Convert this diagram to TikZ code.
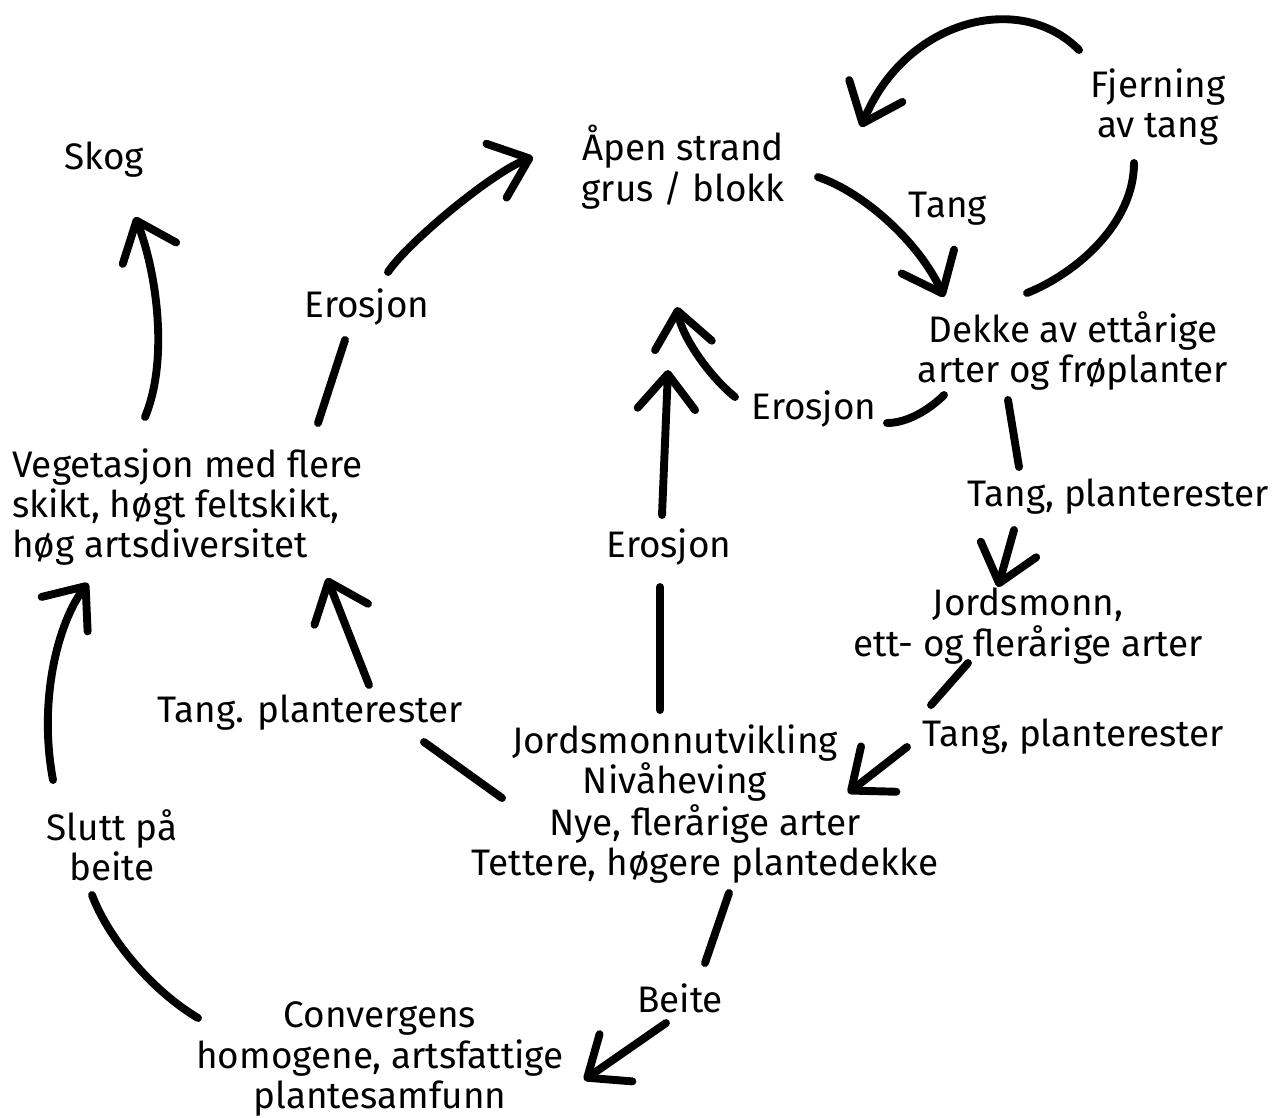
\documentclass[tikz,border=0pt]{standalone}
\usepackage{fontspec}
\setmainfont{Fira Sans}
\usepackage{tikz}
\usetikzlibrary{arrows.meta}
\tikzstyle{stage}=[align=center, inner sep=0pt, font=\fontsize{21}{23}\selectfont]
\tikzstyle{link}=[line width=4.5pt, line cap=round]
\tikzstyle{flow}=[link, -{Straight Barb[length=0.7cm, width=1.15cm, round]}]
\newcommand{\stage}{\node[stage]}

\begin{document}
\begin{tikzpicture}[x=0.02cm, y=-0.02cm]
            \useasboundingbox (0,0) rectangle (1274,1117);
            \stage (skog) at (104,160) {Skog};
            \stage (apen) at (683,167) {Åpen strand\\grus / blokk};
            \stage (fjern) at (1158,107) {Fjerning\\av tang};
            \stage (tang) at (948,209) {Tang};
            \stage (dekke) at (1073,351) {Dekke av ettårige\\arter og frøplanter};
            \stage (eroR) at (814,409) {Erosjon};
            \stage (eroL) at (367,307) {Erosjon};
            \stage (eroC) at (669,547) {Erosjon};
            \stage (veg) at (12,507) [anchor=west, align=left] {Vegetasjon med flere\\skikt, høgt feltskikt,\\høg artsdiversitet};
            \stage (tangR) at (1118,497) {Tang, planterester};
            \stage (jord) at (1028,626) {Jordsmonn,\\ett- og flerårige arter};
            \stage (tangLR) at (1073,737) {Tang, planterester};
            \stage (tangL) at (310,713) {Tang. planterester};
            \stage (jutv) at (675,763) {Jordsmonnutvikling\\Nivåheving};
            \stage (nye) at (705,844) {Nye, flerårige arter\\Tettere, høgere plantedekke};
            \stage (slutt) at (112,845) {Slutt på\\beite};
            \stage (beite) at (680,998) {Beite};
            \stage (conv) at (380,1059) {Convergens\\homogene, artsfattige\\plantesamfunn};
            \coordinate (up1) at (677,307);
            \coordinate (up2) at (668,370);

            \draw[flow] ([shift={(135,10)}]apen.center) .. controls +(45,15) and +(-25,-55) .. ([shift={(-129,-54)}]dekke.center);
            \draw[link] ([shift={(-46,-58)}]dekke.center) .. controls +(50,-20) and +(0,60) .. ([shift={(-24,56)}]fjern.center);
            \draw[flow] ([shift={(-79,-57)}]fjern.center) .. controls +(-59,-60) and +(44,-107) .. ([shift={(178,-40)}]apen.center);
            \draw[link] ([shift={(-129,44)}]dekke.center) .. controls +(-15,15) and +(20,0) .. ([shift={(73,14)}]eroR.center);
            \draw[flow] ([shift={(-79,-12)}]eroR.center) .. controls +(-25,-20) and +(5,30) .. (up1);
            \draw[link] ([shift={(-65,49)}]dekke.center) -- ([shift={(-99,-30)}]tangR.center);
            \draw[flow] ([shift={(-104,33)}]tangR.center) -- ([shift={(-30,-39)}]jord.center);
            \draw[link] ([shift={(-60,37)}]jord.center) -- ([shift={(-142,-32)}]tangLR.center);
            \draw[flow] ([shift={(-166,10)}]tangLR.center) -- ([shift={(143,-51)}]nye.center);
            \draw[link] ([shift={(-15,-53)}]jutv.center) -- ([shift={(-9,40)}]eroC.center);
            \draw[flow] ([shift={(-7,-32)}]eroC.center) -- (up2);
            \draw[link] ([shift={(-203,-46)}]nye.center) -- ([shift={(114,29)}]tangL.center);
            \draw[flow] ([shift={(59,-28)}]tangL.center) -- ([shift={(315,71)}]veg.west);
            \draw[link] ([shift={(306,-84)}]veg.west) -- ([shift={(-22,33)}]eroL.center);
            \draw[flow] ([shift={(21,-35)}]eroL.center) .. controls +(20,-30) and +(-40,15) .. ([shift={(-150,-10)}]apen.center);
            \draw[flow] ([shift={(133,-90)}]veg.west) .. controls +(25,-60) and +(20,50) .. ([shift={(31,57)}]skog.center);
            \draw[flow] ([shift={(-59,-65)}]slutt.center) .. controls +(-15,-80) and +(-30,40) .. ([shift={(76,76)}]veg.west);
            \draw[link] ([shift={(-182,-41)}]conv.center) .. controls +(-50,-30) and +(15,40) .. ([shift={(-20,50)}]slutt.center);
            \draw[link] ([shift={(24,49)}]nye.center) -- ([shift={(25,-35)}]beite.center);
            \draw[flow] ([shift={(-14,25)}]beite.center) -- ([shift={(204,21)}]conv.center);
\end{tikzpicture}
\end{document}
